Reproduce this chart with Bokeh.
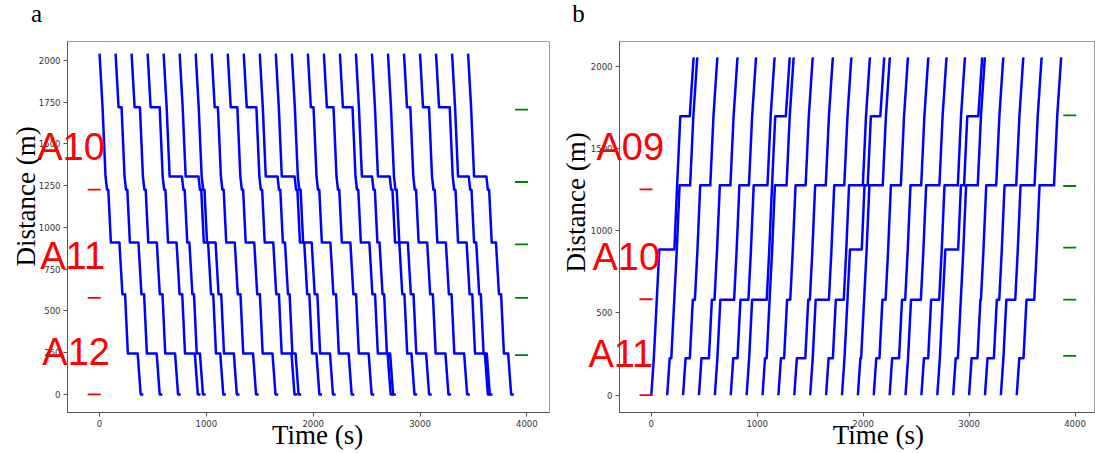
import math
from bokeh.plotting import figure
from bokeh.layouts import row
from bokeh.models import Range1d, FixedTicker
from bokeh.core.properties import value
from bokeh.embed import file_html
from bokeh.resources import INLINE

# ---------------- Panel a (trains running down) ----------------
A_LEVELS = [2040, 1720, 1305, 1225, 910, 600, 245, 0]          # distance levels (m)
A_RUN = [28, 28, 14, 24, 28, 26, 28]                           # run time between levels (s)
A_START = [0, 150, 300, 450, 600, 750, 900, 1050, 1200, 1350, 1500, 1650,
           1800, 1950, 2100, 2250, 2400, 2550, 2700, 2850, 3000, 3150, 3300, 3450]
A_D1720 = [0, 28, 50, 85, 0, 0, 0, 30, 62, 90, 0, 0, 0, 25, 62, 90, 0, 0, 0, 31, 56, 100, 0, 0]
A_D1305 = [0, 0, 0, 0, 115, 120, 0, 0, 0, 0, 110, 120, 0, 0, 0, 0, 95, 110, 0, 0, 0, 0, 100, 115]
A_D1225 = [12, 12, 12, 12, 12, 12, 12, 12, 12, 12, 12, 12, 12, 12, 12, 12, 12, 12, 12, 12, 12, 12, 12, 12]
A_D910 = [80, 80, 80, 80, 20, 40, 80, 80, 80, 80, 20, 40, 80, 80, 80, 80, 20, 40, 80, 80, 80, 80, 20, 40]
A_D600 = [25, 25, 25, 25, 15, 20, 25, 25, 25, 25, 15, 20, 25, 25, 25, 25, 15, 20, 25, 25, 25, 25, 15, 20]
A_D245 = [92, 92, 92, 92, 30, 40, 92, 92, 92, 92, 30, 40, 92, 92, 92, 92, 30, 40, 92, 92, 92, 92, 30, 40]
A_DEND = [25, 25, 25, 25, 25, 25, 25, 25, 25, 25, 25, 25, 25, 25, 25, 25, 25, 25, 25, 25, 25, 25, 25, 25]
A_RED_Y = [1226, 578, 0]
A_GREEN_Y = [1705, 1272, 899, 578, 235]
A_LABELS = ["A10", "A11", "A12"]
A_LABEL_X = [-583, -555, -536]
A_LABEL_Y = [1479, 827, 253]

# ---------------- Panel b (trains running up) ----------------
B_LEVELS = [0, 225, 580, 885, 1275, 1695, 2045]
B_RUN = [24, 28, 24, 26, 30, 36]
B_START = [0, 150, 300, 450, 600, 750, 900, 1050, 1200, 1350, 1500, 1650,
           1800, 1950, 2100, 2250, 2400, 2550, 2700, 2850, 3000, 3150, 3300, 3450]
B_D225 = [0, 15, 40, 70, 0, 40, 0, 15, 30, 80, 0, 40, 0, 7, 30, 65, 0, 40, 0, 20, 55, 60, 0, 40]
B_D580 = [0, 0, 20, 25, 130, 75, 138, 0, 30, 15, 125, 75, 0, 0, 30, 30, 93, 76, 0, 0, 5, 23, 84, 73]
B_D885 = [142, 0, 0, 0, 0, 0, 0, 0, 0, 0, 0, 0, 111, 0, 0, 0, 0, 0, 121, 0, 0, 0, 0, 0]
B_D1275 = [0, 100, 95, 100, 90, 130, 0, 110, 95, 100, 95, 130,
           30, 126, 94, 101, 125, 126, 30, 110, 94, 110, 132, 137]
B_D1695 = [89, 0, 0, 0, 0, 0, 100, 0, 0, 0, 0, 0, 89, 0, 0, 0, 0, 0, 104, 0, 0, 0, 0, 0]
B_DEND = [12, 12, 12, 12, 12, 12, 12, 12, 12, 12, 12, 12, 12, 12, 12, 12, 12, 12, 12, 12, 12, 12, 12, 12]
B_RED_Y = [1251, 583, 0]
B_GREEN_Y = [1700, 1271, 897, 581, 239]
B_LABELS = ["A09", "A10", "A11"]
B_LABEL_X = [-517, -555, -593]
B_LABEL_Y = [1506, 838, 249]

X_TICKS = [0, 1000, 2000, 3000, 4000]
A_Y_TICKS = [0, 250, 500, 750, 1000, 1250, 1500, 1750, 2000]
B_Y_TICKS = [0, 500, 1000, 1500, 2000]


def trajectories(starts, levels, runs, dwell_cols):
    xs, ys = [], []
    for i, t0 in enumerate(starts):
        t = t0
        tx, ty = [t], [levels[0]]
        for k in range(1, len(levels)):
            t += runs[k - 1]
            tx.append(t)
            ty.append(levels[k])
            dw = dwell_cols[k - 1][i]
            if dw > 0:
                t += dw
                tx.append(t)
                ty.append(levels[k])
        xs.append(tx)
        ys.append(ty)
    return xs, ys


def make_fig(width, left, right, top, bottom, xr, yr, yticks):
    p = figure(width=width, height=453, x_range=Range1d(*xr), y_range=Range1d(*yr),
               output_backend="svg", toolbar_location=None, title=None,
               min_border_left=left, min_border_right=right,
               min_border_top=top, min_border_bottom=bottom)
    p.grid.visible = False
    p.outline_line_color = "#9a9a9a"
    p.outline_line_width = 1
    p.background_fill_color = "white"
    p.border_fill_color = "white"
    for ax in (p.xaxis[0], p.yaxis[0]):
        ax.axis_line_color = "#555555"
        ax.major_tick_line_color = "#555555"
        ax.major_tick_out = 4
        ax.major_tick_in = 0
        ax.minor_tick_line_color = None
        ax.major_label_text_font = "DejaVu Sans"
        ax.major_label_text_font_size = "8.5px"
        ax.major_label_text_color = "#333333"
        ax.major_label_standoff = 3
    p.xaxis.ticker = FixedTicker(ticks=X_TICKS)
    p.yaxis.ticker = FixedTicker(ticks=yticks)
    return p


def add_text(p, xs, ys, texts, size, font, color="black", angle=0.0, align="left",
             baseline="alphabetic"):
    r = p.text(x=xs, y=ys, text=texts, text_font=value(font), text_font_size=value(size),
               text_color=color, angle=angle, text_align=align, text_baseline=baseline)
    r.level = "overlay"
    return r


# ----- figure a -----
pa = make_fig(555, 67, 6, 41, 41, (-300, 4212), (-108, 2113), A_Y_TICKS)
axs, ays = trajectories(A_START, A_LEVELS, A_RUN,
                        [A_D1720, A_D1305, A_D1225, A_D910, A_D600, A_D245, A_DEND])
pa.multi_line(xs=axs, ys=ays, line_color="#0000ff", line_width=2.5, line_join="round")
pa.dash(x=[-50] * len(A_RED_Y), y=A_RED_Y, size=13, line_color="#ff0000", line_width=1.8)
pa.dash(x=[3950] * len(A_GREEN_Y), y=A_GREEN_Y, size=13, line_color="#008000", line_width=1.8)
add_text(pa, A_LABEL_X, A_LABEL_Y, A_LABELS, "38px", "Liberation Sans", color="#ff0000")
add_text(pa, [-686], [1186], ["Distance (m)"], "27px", "Liberation Serif", angle=math.pi / 2,
         align="center", baseline="middle")
add_text(pa, [2042], [-243], ["Time (s)"], "27px", "Liberation Serif", align="center",
         baseline="middle")
add_text(pa, [-642], [2282], ["a"], "25px", "Liberation Serif")

# ----- figure b -----
pb = make_fig(540, 64, 1, 41, 41, (-300, 4184), (-105, 2149), B_Y_TICKS)
bxs, bys = trajectories(B_START, B_LEVELS, B_RUN,
                        [B_D225, B_D580, B_D885, B_D1275, B_D1695, B_DEND])
pb.multi_line(xs=bxs, ys=bys, line_color="#0000ff", line_width=2.5, line_join="round")
pb.dash(x=[-50] * len(B_RED_Y), y=B_RED_Y, size=13, line_color="#ff0000", line_width=1.8)
pb.dash(x=[3950] * len(B_GREEN_Y), y=B_GREEN_Y, size=13, line_color="#008000", line_width=1.8)
add_text(pb, B_LABEL_X, B_LABEL_Y, B_LABELS, "38px", "Liberation Sans", color="#ff0000")
add_text(pb, [-706], [1171], ["Distance (m)"], "27px", "Liberation Serif", angle=math.pi / 2,
         align="center", baseline="middle")
add_text(pb, [2144], [-243], ["Time (s)"], "27px", "Liberation Serif", align="center",
         baseline="middle")
add_text(pb, [-747], [2321], ["b"], "25px", "Liberation Serif")

layout = row(pa, pb, spacing=0)
open("out.html", "w").write(file_html(layout, INLINE))
